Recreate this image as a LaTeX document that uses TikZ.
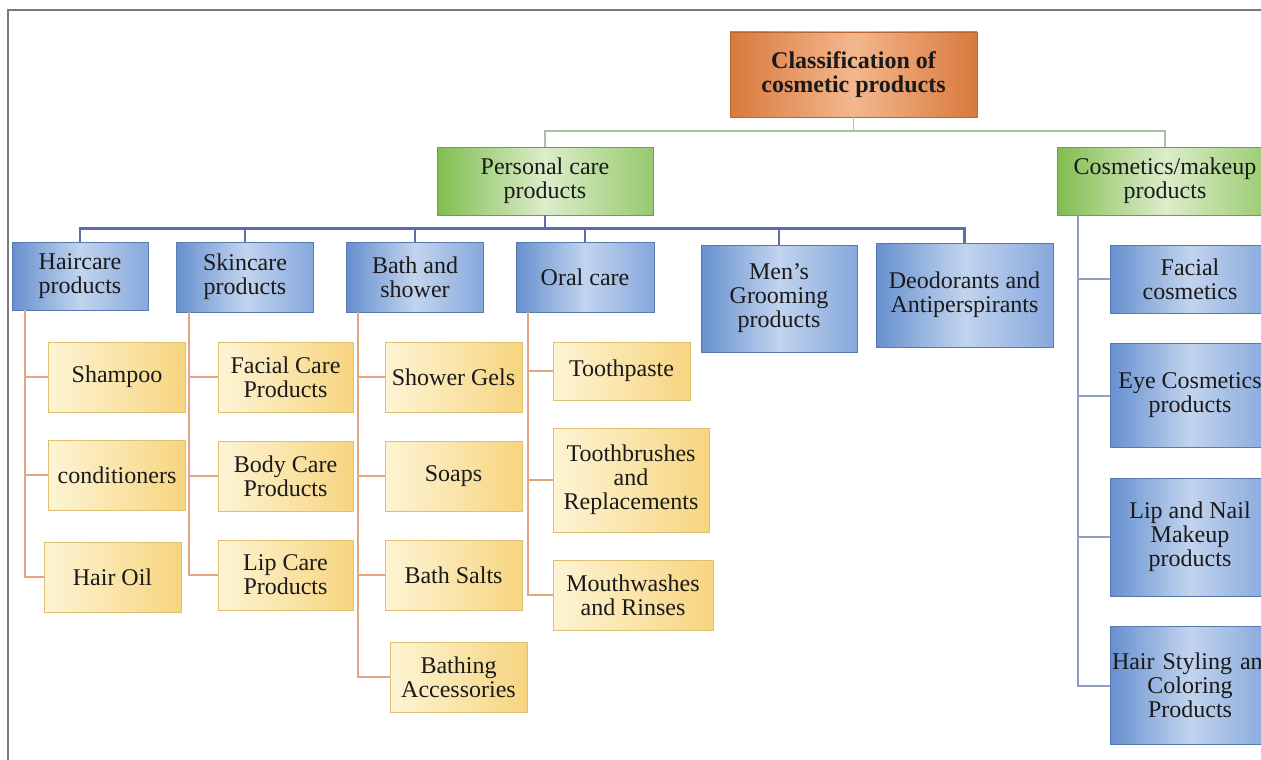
\documentclass[tikz,border=0pt]{standalone}
\usepackage{fontspec}
\setmainfont{Liberation Serif}
\usepackage{xcolor}
\definecolor{orangeL}{HTML}{D9793C}
\definecolor{orangeM}{HTML}{F3B78E}
\definecolor{greenD}{HTML}{80BD50}
\definecolor{greenL}{HTML}{DCEDCA}
\definecolor{blueD}{HTML}{6690CF}
\definecolor{blueL}{HTML}{C2D4EE}
\definecolor{blueR}{HTML}{86A8DC}
\definecolor{yellowL}{HTML}{FDF4D4}
\definecolor{yellowR}{HTML}{F7D580}
\definecolor{ink}{HTML}{1A1A1A}
\definecolor{frameGray}{HTML}{7A7A7A}
\definecolor{lineGreen}{HTML}{A9C2A5}
\definecolor{lineBlue}{HTML}{5C6FA6}
\definecolor{lineOrange}{HTML}{E3A47F}
\definecolor{lineSlate}{HTML}{8F9CC4}
\usepackage{tikz}
\usetikzlibrary{positioning}

\begin{document}
\begin{tikzpicture}[
        x=1pt, y=-1pt,
        font=\fontsize{24}{24}\selectfont,
        box/.style={rectangle, align=center, inner sep=2pt, text=ink},
        rootbox/.style={box, minimum width=247pt, minimum height=85pt, font=\fontsize{24}{24}\selectfont\bfseries, left color=orangeL, right color=orangeL, middle color=orangeM, draw=orangeL!85!black, line width=0.5pt},
        groupbox/.style={box, minimum width=216pt, minimum height=68pt, left color=greenD, right color=greenD!75!greenL, middle color=greenL, draw=greenD!85!black, line width=0.5pt},
        catbox/.style={box, minimum width=137pt, minimum height=70pt, left color=blueD, right color=blueR, middle color=blueL, draw=blueD!85!black, line width=0.5pt},
        itembox/.style={box, minimum width=137pt, minimum height=70pt, left color=yellowL, right color=yellowR, middle color=yellowL!50!yellowR, draw=yellowR!90!black, line width=0.4pt},
        gline/.style={draw=lineGreen, line width=1.6pt},
        bline/.style={draw=lineBlue, line width=2.5pt},
        oline/.style={draw=lineOrange, line width=1.8pt},
        cline/.style={draw=lineSlate, line width=2pt}
    ]
        % Page and frame
        \fill[white] (0,0) rectangle (1261,760);
        \useasboundingbox (0,0) rectangle (1261,760);
        \clip (0,0) rectangle (1261,760);
        \draw[frameGray, line width=1.5pt] (8,760) -- (8,10) -- (1261,10);

        % Root
        \node[rootbox] (root) at (853.5,74.5) {Classification of\\cosmetic products};

        % Groups
        \node[groupbox] (personal) at (545,181) {Personal care\\products};
        \node[groupbox] (makeup) at (1165,181) {Cosmetics/makeup\\products};

        % Personal care categories
        \node[catbox, minimum width=136pt, minimum height=68pt] (haircare) at (80,276) {Haircare\\products};
        \node[catbox] (skincare) at (245,277) {Skincare\\products};
        \node[catbox] (bath) at (415,277) {Bath and\\shower};
        \node[catbox, minimum width=138pt] (oral) at (585,277) {Oral care};
        \node[catbox, minimum width=156pt, minimum height=107pt] (grooming) at (779,298.5) {Men's\\Grooming\\products};
        \node[catbox, minimum width=177pt, minimum height=104pt] (deodorant) at (964.5,295) {Deodorants and\\Antiperspirants};

        % Makeup categories
        \node[catbox, minimum width=160pt, minimum height=68pt] (facial) at (1190,279) {Facial\\cosmetics};
        \node[catbox, minimum width=160pt, minimum height=104pt, below=30pt of facial] (eye) {Eye Cosmetics\\products};
        \node[catbox, minimum width=160pt, minimum height=118pt, below=30pt of eye] (lipnail) {Lip and Nail\\Makeup\\products};
        \node[catbox, text width=156pt, minimum height=118pt, below=30pt of lipnail] (hairstyle) {\mbox{Hair Styling and}\\Coloring\\Products};

        % Haircare items
        \node[itembox] (shampoo) at (117,377) {Shampoo};
        \node[itembox] (conditioner) at (117,475) {conditioners};
        \node[itembox] (hairoil) at (112.5,577) {Hair Oil};

        % Skincare items
        \node[itembox, minimum width=135pt] (facialcare) at (285.5,377) {Facial Care\\Products};
        \node[itembox, minimum width=135pt] (bodycare) at (285.5,476) {Body Care\\Products};
        \node[itembox, minimum width=135pt] (lipcare) at (285.5,575) {Lip Care\\Products};

        % Bath items
        \node[itembox] (showergel) at (453.5,377) {Shower Gels};
        \node[itembox] (soap) at (453.5,476) {Soaps};
        \node[itembox] (bathsalt) at (453.5,575) {Bath Salts};
        \node[itembox] (bathacc) at (458.5,677) {Bathing\\Accessories};

        % Oral items
        \node[itembox, minimum height=58pt] (toothpaste) at (621.5,371) {Toothpaste};
        \node[itembox, minimum width=156pt, minimum height=104pt] (toothbrush) at (631,480) {Toothbrushes\\and\\Replacements};
        \node[itembox, minimum width=160pt] (mouthwash) at (633,595) {Mouthwashes\\and Rinses};

        % Root to groups
        \draw[gline] (root.south) -- ++(0,14) -| (personal.north);
        \draw[gline] (root.south) -- ++(0,14) -| (makeup.north);

        % Personal care bus
        \foreach \c in {haircare, skincare, bath, oral, grooming, deodorant}
            \draw[bline] (personal.south) -- ++(0,13) -| (\c.north);

        % Item branches
        \foreach \c in {shampoo, conditioner, hairoil}
            \draw[oline] ([xshift=13pt]haircare.south west) |- (\c.west);
        \foreach \c in {facialcare, bodycare, lipcare}
            \draw[oline] ([xshift=13pt]skincare.south west) |- (\c.west);
        \foreach \c in {showergel, soap, bathsalt, bathacc}
            \draw[oline] ([xshift=12pt]bath.south west) |- (\c.west);
        \foreach \c in {toothpaste, toothbrush, mouthwash}
            \draw[oline] ([xshift=12pt]oral.south west) |- (\c.west);

        % Makeup branches
        \foreach \c in {facial, eye, lipnail, hairstyle}
            \draw[cline] ([xshift=21pt]makeup.south west) |- (\c.west);
    \end{tikzpicture}
\end{document}
